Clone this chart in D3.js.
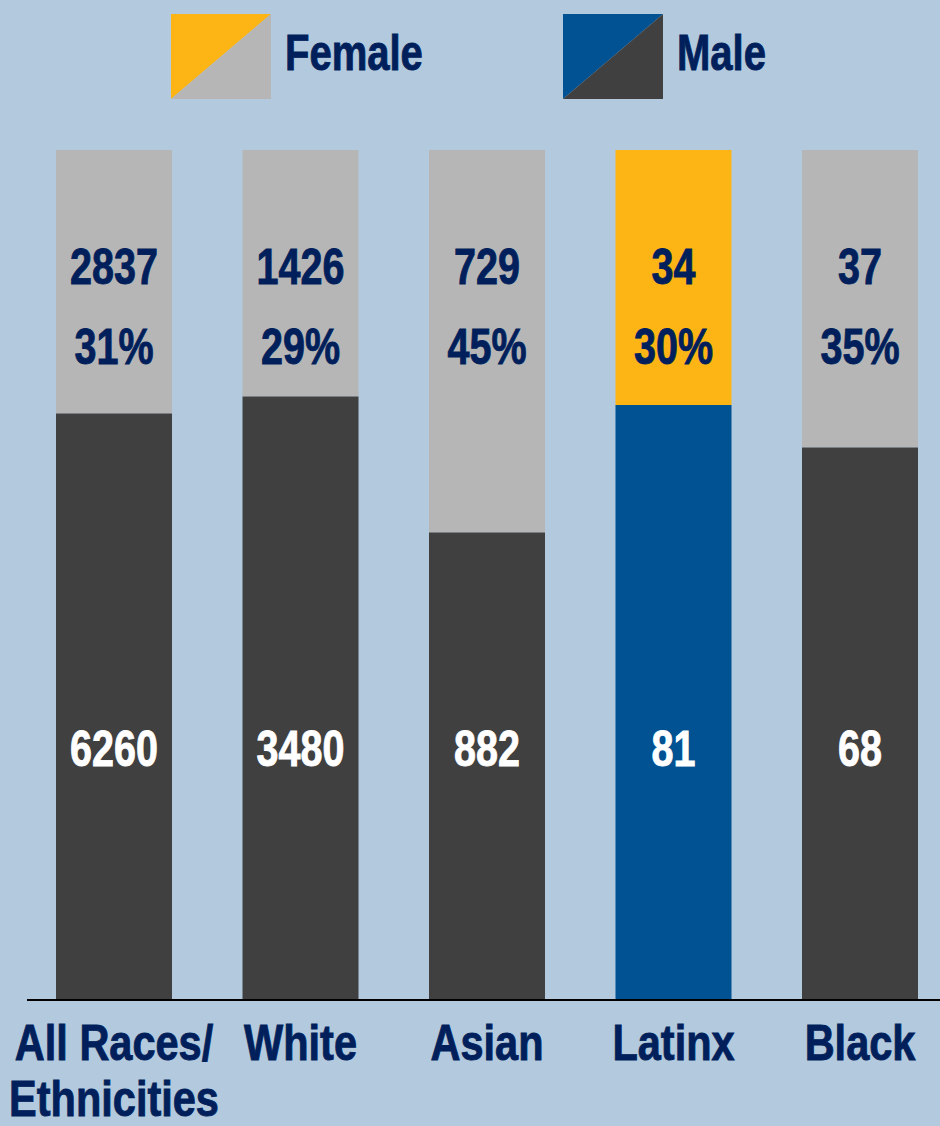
<!DOCTYPE html>
<html>
<head>
<meta charset="utf-8">
<script src="https://cdn.jsdelivr.net/npm/d3@7"></script>
<style>
  html, body { margin: 0; padding: 0; background: #b3c9de; }
  svg { display: block; }
  text { font-family: "Liberation Sans", Arial, sans-serif; font-weight: bold; }
</style>
</head>
<body>
<svg id="chart" width="940" height="1126"></svg>
<script>
const categories = [["All Races/", "Ethnicities"], ["White"], ["Asian"], ["Latinx"], ["Black"]];
const femaleCounts = [2837, 1426, 729, 34, 37];
const maleCounts = [6260, 3480, 882, 81, 68];
const femalePct = [31, 29, 45, 30, 35];
const highlighted = [false, false, false, true, false];

const colors = {
    femaleHi: '#fdb515', maleHi: '#005293',
    female: '#b6b6b6', male: '#404040',
    navy: '#001f5b'
};

const svg = d3.select('#chart');
const width = 940;

const x = d3.scaleBand()
    .domain(d3.range(categories.length))
    .range([56, 918])
    .paddingInner(0.378)
    .paddingOuter(0);

// percent from the top: female share first
const y = d3.scaleLinear().domain([0, 100]).range([150, 1000]);

const data = categories.map((c, i) => ({
    i, label: c, f: femaleCounts[i], m: maleCounts[i], pct: femalePct[i], hi: highlighted[i]
}));

// text helper: draw at (x, y) squeezed horizontally for a condensed look
function narrowText(sel, xf, yv, anchor, sx) {
    return sel.attr('text-anchor', anchor)
        .attr('stroke-width', 0.9)
        .attr('transform', (d, j) => {
            const xx = typeof xf === 'function' ? xf(d, j) : xf;
            const yy = typeof yv === 'function' ? yv(d, j) : yv;
            return `translate(${xx},${yy}) scale(${sx},1)`;
        });
}

// legend
const legend = [
    { name: 'Female', a: colors.femaleHi, b: colors.female, x: 171 },
    { name: 'Male', a: colors.maleHi, b: colors.male, x: 563 }
];
const lg = svg.append('g').selectAll('g').data(legend).join('g')
    .attr('transform', d => `translate(${d.x},14)`);
lg.append('path').attr('d', 'M0,0 L100,0 L0,85 Z').attr('fill', d => d.a);
lg.append('path').attr('d', 'M100,0 L100,85 L0,85 Z').attr('fill', d => d.b);
narrowText(lg.append('text'), 114, 56, 'start', 0.8)
    .attr('font-size', 50)
    .attr('fill', colors.navy).attr('stroke', colors.navy)
    .text(d => d.name);

// bars
const bars = svg.append('g').selectAll('g').data(data).join('g');
bars.append('rect')
    .attr('x', d => x(d.i)).attr('width', x.bandwidth())
    .attr('y', y(0)).attr('height', d => y(d.pct) - y(0))
    .attr('fill', d => d.hi ? colors.femaleHi : colors.female);
bars.append('rect')
    .attr('x', d => x(d.i)).attr('width', x.bandwidth())
    .attr('y', d => y(d.pct)).attr('height', d => y(100) - y(d.pct))
    .attr('fill', d => d.hi ? colors.maleHi : colors.male);

const cx = d => x(d.i) + x.bandwidth() / 2;
narrowText(bars.append('text'), cx, 284, 'middle', 0.79)
    .attr('font-size', 50).attr('fill', colors.navy).attr('stroke', colors.navy)
    .text(d => d.f);
narrowText(bars.append('text'), cx, 364, 'middle', 0.79)
    .attr('font-size', 50).attr('fill', colors.navy).attr('stroke', colors.navy)
    .text(d => d.pct + '%');
narrowText(bars.append('text'), cx, 766, 'middle', 0.79)
    .attr('font-size', 50).attr('fill', '#ffffff').attr('stroke', '#ffffff')
    .text(d => d.m);

// baseline
svg.append('line')
    .attr('x1', 27).attr('x2', width)
    .attr('y1', 1000).attr('y2', 1000)
    .attr('stroke', '#000').attr('stroke-width', 2);

// category labels
const catLines = data.flatMap(d => d.label.map((t, j) => ({ t, x: cx(d), y: 1060 + j * 56 })));
narrowText(svg.append('g').selectAll('text').data(catLines).join('text'), d => d.x, d => d.y, 'middle', 0.83)
    .attr('font-size', 50)
    .attr('fill', colors.navy).attr('stroke', colors.navy)
    .text(d => d.t);
</script>
</body>
</html>
